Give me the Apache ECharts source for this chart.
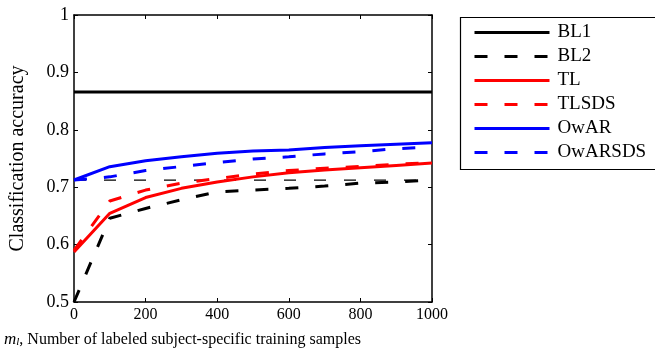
<!DOCTYPE html>
<html>
<head>
<meta charset="utf-8">
<script src="https://cdn.jsdelivr.net/npm/echarts@6/dist/echarts.min.js"></script>
<style>
  html, body { margin: 0; padding: 0; background: #fff; }
  #chart { width: 655px; height: 356px; }
</style>
</head>
<body>
<div id="chart"></div>
<script>
const samples = [0, 100, 200, 300, 400, 500, 600, 700, 800, 900, 1000];
const yTicks = [0.5, 0.6, 0.7, 0.8, 0.9, 1];
const names = ["BL1", "BL2", "TL", "TLSDS", "OwAR", "OwARSDS"];

const bl1 = [0.866, 0.866, 0.866, 0.866, 0.866, 0.866, 0.866, 0.866, 0.866, 0.866, 0.866];
const bl2 = [0.5, 0.646, 0.663, 0.678, 0.692, 0.695, 0.698, 0.702, 0.707, 0.709, 0.7125];
const tl = [0.587, 0.6545, 0.682, 0.698, 0.709, 0.718, 0.725, 0.73, 0.734, 0.738, 0.742];
const tlsds = [0.59, 0.676, 0.695, 0.707, 0.715, 0.723, 0.729, 0.733, 0.736, 0.74, 0.743];
const owar = [0.7125, 0.7357, 0.746, 0.753, 0.759, 0.763, 0.765, 0.769, 0.772, 0.775, 0.7775];
const owarsds = [0.7125, 0.718, 0.729, 0.736, 0.743, 0.749, 0.753, 0.758, 0.762, 0.767, 0.77];
const refLine = [0.7125, 0.7125, 0.7125, 0.7125, 0.7125, 0.7125, 0.7125, 0.7125, 0.7125, 0.7125, 0.7125];

const font = "'Liberation Serif', 'DejaVu Serif', serif";
const chart = echarts.init(document.getElementById("chart"));

const pairs = (ys) => samples.map((x, i) => [x, ys[i]]);
const dash = [13, 17];

function lineSeries(name, ys, color, dashed) {
  return {
    name: name,
    type: "line",
    data: pairs(ys),
    symbol: "none",
    lineStyle: { color: color, width: 3, type: dashed ? dash : "solid" },
    itemStyle: { color: color },
  };
}

const tickStyle = { show: true, inside: true, length: 4, lineStyle: { color: "#000", width: 1 } };
const axisLine = { show: true, onZero: false, lineStyle: { color: "#000", width: 1.5 } };

const option = {
  animation: false,
  grid: { left: 72, top: 15, width: 360, height: 287, containLabel: false },
  xAxis: [
    {
      type: "value", min: 0, max: 1000, interval: 200,
      axisLine: axisLine, axisTick: tickStyle, splitLine: { show: false },
      axisLabel: { color: "#000", fontFamily: font, fontSize: 16, margin: 5, formatter: (v) => String(v) },
    },
    {
      type: "value", position: "top", min: 0, max: 1000, interval: 200,
      axisLine: axisLine, axisTick: tickStyle, splitLine: { show: false },
      axisLabel: { show: false },
    },
  ],
  yAxis: [
    {
      type: "value", min: 0.5, max: 1, interval: 0.1,
      axisLine: axisLine, axisTick: tickStyle, splitLine: { show: false },
      axisLabel: {
        color: "#000", fontFamily: font, fontSize: 18, margin: 5,
        formatter: (v) => (yTicks.includes(Math.round(v * 10) / 10) ? (v === 1 ? "1" : v.toFixed(1)) : ""),
      },
      name: "Classification accuracy", nameLocation: "middle", nameGap: 46,
      nameTextStyle: { color: "#000", fontFamily: font, fontSize: 20 },
    },
    {
      type: "value", position: "right", min: 0.5, max: 1, interval: 0.1,
      axisLine: axisLine, axisTick: tickStyle, splitLine: { show: false },
      axisLabel: { show: false },
    },
  ],
  legend: {
    orient: "vertical",
    left: 473,
    top: 23,
    padding: 0,
    itemWidth: 75,
    itemHeight: 14,
    itemGap: 5,
    itemStyle: { opacity: 0 },
    lineStyle: { width: 3 },
    data: names.map((n, i) => (i % 2 === 1 ? { name: n, lineStyle: { width: 3, type: dash } } : n)),
    textStyle: { color: "#000", fontFamily: font, fontSize: 19, lineHeight: 19, padding: [0, 0, 0, 3] },
  },
  graphic: [
    {
      type: "rect", left: 458, top: 15,
      shape: { width: 198, height: 152 },
      style: { fill: "none", stroke: "#000", lineWidth: 1.2 },
    },
    {
      type: "text", left: 4, top: 331,
      style: {
        text: "{m|m}{l|l}, Number of labeled subject-specific training samples",
        fill: "#000", font: "16px " + font,
        rich: {
          m: { fontFamily: font, fontSize: 17, fontStyle: "italic" },
          l: { fontFamily: font, fontSize: 11, fontStyle: "italic", verticalAlign: "bottom", padding: [6, 0, 0, 0] },
        },
      },
    },
  ],
  series: [
    lineSeries(names[0], bl1, "#000", false),
    lineSeries(names[1], bl2, "#000", true),
    lineSeries(names[2], tl, "#ff0000", false),
    lineSeries(names[3], tlsds, "#ff0000", true),
    lineSeries(names[4], owar, "#0000ff", false),
    lineSeries(names[5], owarsds, "#0000ff", true),
    {
      name: "ref", type: "line", data: pairs(refLine), symbol: "none", z: 1,
      lineStyle: { color: "#000", width: 1.2, type: [12, 18] },
    },
  ],
};

chart.setOption(option);
</script>
</body>
</html>
